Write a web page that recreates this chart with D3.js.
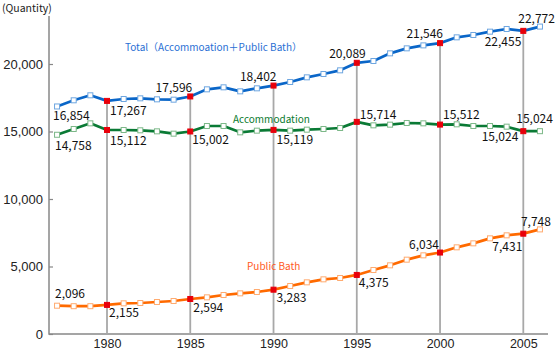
<!DOCTYPE html>
<html>
<head>
<meta charset="utf-8">
<script src="https://cdn.jsdelivr.net/npm/d3@7"></script>
<style>
  body { margin: 0; background: #fff; }
  svg { display: block; font-family: "Noto Sans CJK JP", "Noto Sans", sans-serif; }
</style>
</head>
<body>
<svg width="558" height="362"></svg>
<script>
const WIDTH = 558;
const HEIGHT = 362;

// ---------- data ----------

const years = d3.range(1977, 2007);
const total = [
  16854, 17311, 17681, 17267, 17407, 17457, 17383, 17358, 17596, 18124,
  18272, 17975, 18198, 18402, 18667, 19012, 19259, 19531, 20089, 20222,
  20790, 21160, 21380, 21546, 21975, 22148, 22395, 22593, 22455, 22772,
];
const accommodation = [
  14758, 15185, 15605, 15112, 15111, 15089, 15012, 14840, 15002, 15407,
  15407, 14938, 15062, 15119, 15062, 15136, 15185, 15259, 15714, 15457,
  15506, 15630, 15605, 15512, 15531, 15407, 15407, 15358, 15024, 15024,
];
const publicBath = [
  2096, 2060, 2060, 2155, 2272, 2296, 2370, 2444, 2594, 2716,
  2889, 3012, 3111, 3283, 3556, 3827, 4049, 4148, 4375, 4741,
  5086, 5506, 5827, 6034, 6420, 6716, 7086, 7309, 7431, 7748,
];
const yTicks = [0, 5000, 10000, 15000, 20000];
const xTicks = [1980, 1985, 1990, 1995, 2000, 2005];
const labelYears = [1977, 1980, 1985, 1990, 1995, 2000, 2005, 2006];

// ---------- layout ----------

const x = d3.scaleLinear().domain([1980, 2005]).range([107, 523.3]);
const y = d3.scaleLinear().domain([0, 20000]).range([334, 64]);
const AXIS_LEFT = 49;
const AXIS_TOP = 16;
const AXIS_RIGHT = 548;

const fmt = d3.format(',');

const series = [
  {
    name: 'total', values: total, line: '#0a66c8', marker: '#6ea6e0',
    // [anchor, dx, dy] per label year
    labels: [['start', -4, 9], ['start', 3, 10], ['end', 2, -9], ['end', 3, -9],
             ['end', 9, -9], ['end', 3, -9], ['end', -2, 11], ['end', 15, -8]],
  },
  {
    name: 'accommodation', values: accommodation, line: '#0a7a35', marker: '#7cb888',
    labels: [['start', -2, 11], ['start', 3, 11], ['start', 2, 8], ['start', 3, 10],
             ['start', 3, -7], ['start', 3, -10], ['end', -5, 6], ['end', 13, -12]],
  },
  {
    name: 'publicBath', values: publicBath, line: '#ff6a00', marker: '#ffab70',
    labels: [['start', -2, -12], ['start', 2, 8], ['start', 3, 9], ['start', 3, 8],
             ['start', 2, 8], ['end', -1, -8], ['end', -1, 13], ['end', 11, -8]],
  },
];

const svg = d3.select('svg');

// ---------- axes ----------

svg.append('text')
  .attr('x', 2).attr('y', 12)
  .attr('font-size', 10.5)
  .attr('fill', '#222')
  .text('(Quantity)');

const yAxis = svg.append('g')
  .attr('transform', `translate(${AXIS_LEFT},0)`)
  .call(d3.axisLeft(y).tickValues(yTicks).tickSize(-4).tickPadding(6).tickFormat(fmt));
yAxis.select('.domain').remove();
yAxis.selectAll('line').attr('stroke', '#888').attr('stroke-width', 1.2);
yAxis.selectAll('text').attr('font-size', 13).attr('fill', '#222').attr('font-family', null);

const xAxis = svg.append('g')
  .attr('transform', `translate(0,${y(0)})`)
  .call(d3.axisBottom(x).tickValues(xTicks).tickSize(0).tickPadding(5).tickFormat(d3.format('d')));
xAxis.select('.domain').remove();
xAxis.selectAll('text').attr('font-size', 12.5).attr('fill', '#222').attr('font-family', null);

svg.append('path')
  .attr('d', `M${AXIS_LEFT},${AXIS_TOP}V${y(0)}H${AXIS_RIGHT}`)
  .attr('fill', 'none')
  .attr('stroke', '#888')
  .attr('stroke-width', 1.5);

// ---------- drop lines ----------

svg.append('g')
  .selectAll('line')
  .data(xTicks)
  .join('line')
  .attr('x1', (d) => x(d)).attr('x2', (d) => x(d))
  .attr('y1', y(0))
  .attr('y2', (d) => y(total[years.indexOf(d)]))
  .attr('stroke', '#a8a8a8')
  .attr('stroke-width', 1.8);

// ---------- series ----------

const line = d3.line()
  .x((d) => x(d[0]))
  .y((d) => y(d[1]));

series.forEach((s) => {
  const pts = years.map((yr, i) => [yr, s.values[i]]);
  const g = svg.append('g');

  g.append('path')
    .datum(pts)
    .attr('d', line)
    .attr('fill', 'none')
    .attr('stroke', s.line)
    .attr('stroke-width', 2.7)
    .attr('stroke-linejoin', 'round');

  g.selectAll('rect')
    .data(pts)
    .join('rect')
    .attr('x', (d) => x(d[0]) - 2.5)
    .attr('y', (d) => y(d[1]) - 2.5)
    .attr('width', 5).attr('height', 5)
    .attr('fill', (d) => (xTicks.includes(d[0]) ? '#e8000b' : '#fff'))
    .attr('stroke', (d) => (xTicks.includes(d[0]) ? '#e8000b' : s.marker))
    .attr('stroke-width', 1);

  g.selectAll('text')
    .data(labelYears)
    .join('text')
    .attr('x', (d, i) => x(d) + s.labels[i][1])
    .attr('y', (d, i) => y(s.values[years.indexOf(d)]) + s.labels[i][2])
    .attr('dy', '0.35em')
    .attr('text-anchor', (d, i) => s.labels[i][0])
    .attr('font-size', 12)
    .attr('fill', '#111')
    .text((d) => fmt(s.values[years.indexOf(d)]));
});

// ---------- series titles ----------

const titles = [
  { text: 'Total（Accommoation＋Public Bath）', x: 125, y: 47, color: '#2a6fd4' },
  { text: 'Accommodation', x: 233, y: 119, color: '#0a7a2e' },
  { text: 'Public Bath', x: 247, y: 266, color: '#ff5a1e' },
];

svg.append('g')
  .selectAll('text')
  .data(titles)
  .join('text')
  .attr('x', (d) => d.x)
  .attr('y', (d) => d.y)
  .attr('dy', '0.35em')
  .attr('font-size', 10)
  .attr('fill', (d) => d.color)
  .text((d) => d.text);
</script>
</body>
</html>
